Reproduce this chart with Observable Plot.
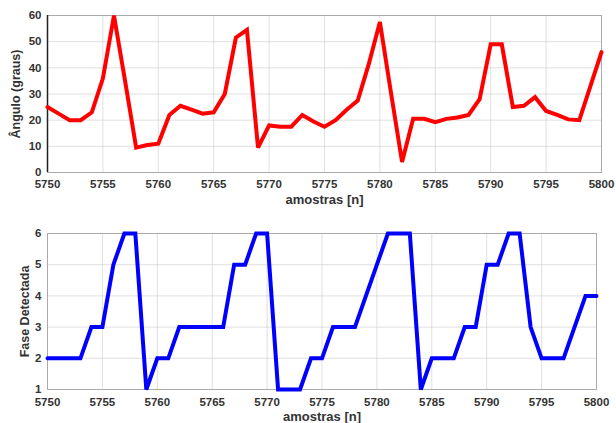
<!DOCTYPE html>
<html><head><meta charset="utf-8">
<script src="https://cdn.jsdelivr.net/npm/d3@7"></script>
<script src="https://cdn.jsdelivr.net/npm/@observablehq/plot@0.6"></script>
<style>
body{margin:0;background:#fff;}
#wrap{position:relative;width:616px;height:423px;}
#wrap>div{position:absolute;left:0;}
</style>
</head><body><div id="wrap"><div id="top" style="top:0"></div><div id="bot" style="top:210px"></div></div>
<script>
const samples = d3.range(5750, 5801);
const angle = [25,22.5,20,20,23,36,60,35,9.5,10.5,11,22,25.5,24,22.5,23,30,51.5,54.5,9.5,18,17.5,17.5,22,19.5,17.5,20,24,27.5,41.5,57.5,30.5,4,20.5,20.5,19.2,20.5,21,22,28,49,49,25,25.5,28.8,23.5,22,20.3,20,33,46];
const phase = [2,2,2,2,3,3,5,6,6,1,2,2,3,3,3,3,3,5,5,6,6,1,1,1,2,2,3,3,3,4,5,6,6,6,1,2,2,2,3,3,5,5,6,6,3,2,2,2,3,4,4];
const xTicks = d3.range(5750, 5801, 5);
const angleTicks = d3.range(0, 61, 10);
const phaseTicks = [1,2,3,4,5,6];

const font = "Arial, 'Liberation Sans', sans-serif";
const style = {fontFamily: font, fontSize: "11.5px", fontWeight: "bold", color: "#333", background: "#fff"};

function panel({data, yDomain, yTicks, yLabel, color, height, mt, mb, mr, darkLeft, xPad, yLabOff}) {
  const rows = samples.map((s, i) => ({n: s, v: data[i]}));
  const svg = Plot.plot({
    width: 616, height, marginLeft: 47, marginRight: mr, marginTop: mt, marginBottom: mb,
    style,
    x: {domain: [5750, 5800]},
    y: {domain: yDomain},
    marks: [
      Plot.gridX(xTicks, {stroke: "#ccc", strokeOpacity: 0.6}),
      Plot.gridY(yTicks, {stroke: "#ccc", strokeOpacity: 0.6}),
      Plot.frame({stroke: "#aaa"}),
      darkLeft ? Plot.ruleX([5750], {stroke: "#222", strokeWidth: 1.5}) : null,
      Plot.line(rows, {x: "n", y: "v", stroke: color, strokeWidth: 4, strokeLinejoin: "miter", strokeMiterlimit: 2}),
      Plot.axisX(xTicks, {tickSize: 0, tickPadding: xPad, tickFormat: d => String(d), label: null}),
      Plot.axisX({tickSize: 0, ticks: [], label: "amostras [n]", labelAnchor: "center", labelArrow: "none", labelOffset: 31, fontSize: 13}),
      Plot.axisY(yTicks, {tickSize: 0, tickPadding: 6, label: null}),
      Plot.axisY({tickSize: 0, ticks: [], label: yLabel, labelAnchor: "center", labelArrow: "none", labelOffset: yLabOff, fontSize: 12.5})
    ]
  });
  return svg;
}

document.getElementById("top").append(panel({data: angle, yDomain: [0, 60], yTicks: angleTicks, yLabel: "Ângulo (graus)", color: "#ff0000", height: 210, mt: 15, mb: 38, mr: 15, darkLeft: true, xPad: 7, yLabOff: 36}));
document.getElementById("bot").append(panel({data: phase, yDomain: [1, 6], yTicks: phaseTicks, yLabel: "Fase Detectada", color: "#0000ff", height: 213, mt: 23, mb: 34, mr: 20, darkLeft: false, xPad: 8, yLabOff: 27}));
</script>
</body></html>
